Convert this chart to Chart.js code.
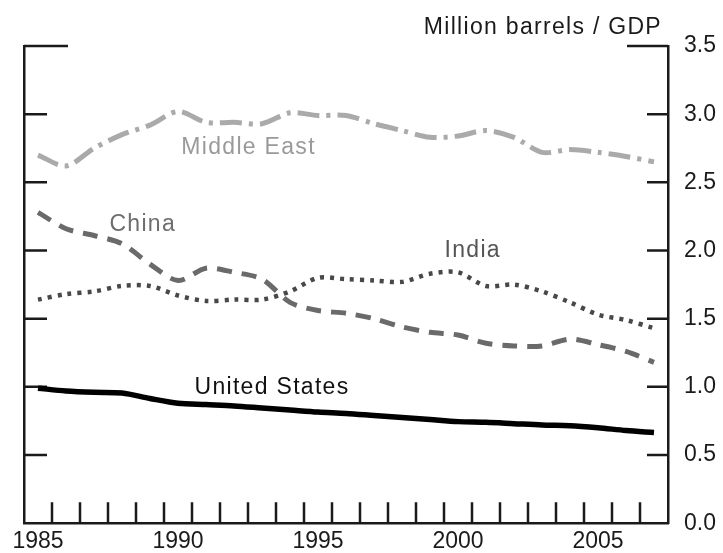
<!DOCTYPE html>
<html>
<head>
<meta charset="utf-8">
<script src="https://cdn.jsdelivr.net/npm/chart.js@4.4.0/dist/chart.umd.min.js"></script>
<style>
  html, body { margin: 0; padding: 0; background: #ffffff; }
  #wrap { width: 723px; height: 553px; }
</style>
</head>
<body>
<div id="wrap"><canvas id="c" width="723" height="553"></canvas></div>
<script>
// Oil intensity: million barrels per unit of GDP, annual values
const years = [1985, 1986, 1987, 1988, 1989, 1990, 1991, 1992, 1993, 1994, 1995, 1996,
               1997, 1998, 1999, 2000, 2001, 2002, 2003, 2004, 2005, 2006, 2007];
const middleEast   = [2.70, 2.62, 2.75, 2.85, 2.92, 3.02, 2.94, 2.94, 2.93, 3.01, 2.99, 2.99,
                      2.93, 2.88, 2.83, 2.84, 2.88, 2.83, 2.72, 2.74, 2.72, 2.69, 2.65];
const china        = [2.28, 2.16, 2.11, 2.05, 1.90, 1.78, 1.87, 1.84, 1.79, 1.62, 1.56, 1.54,
                      1.50, 1.44, 1.40, 1.38, 1.32, 1.30, 1.30, 1.35, 1.31, 1.26, 1.18];
const india        = [1.64, 1.68, 1.70, 1.74, 1.74, 1.67, 1.63, 1.64, 1.64, 1.70, 1.80, 1.79,
                      1.78, 1.77, 1.83, 1.84, 1.74, 1.75, 1.70, 1.62, 1.53, 1.49, 1.43];
const unitedStates = [0.99, 0.97, 0.96, 0.955, 0.915, 0.88, 0.87, 0.86, 0.845, 0.83, 0.815, 0.805,
                      0.79, 0.775, 0.76, 0.745, 0.74, 0.73, 0.72, 0.715, 0.70, 0.68, 0.665];
const xTickLabels = ['1985', '1990', '1995', '2000', '2005'];
const yTickValues = [0, 0.5, 1.0, 1.5, 2.0, 2.5, 3.0, 3.5];
const unitLabel = 'Million barrels / GDP';

// each annual value sits in the middle of its year
const pts = arr => arr.map((v, i) => ({ x: years[i] + 0.5, y: v }));

const FONT = '"Liberation Sans", Arial, sans-serif';
const INK = '#1a1a1a';

// Inward tick marks on the frame: year marks along the bottom, value marks on both sides
const frameTicks = {
  id: 'frameTicks',
  beforeDatasetsDraw(chart) {
    const { ctx, chartArea: a, scales } = chart;
    const x = scales.x, y = scales.y;
    ctx.save();
    ctx.strokeStyle = INK;
    ctx.lineWidth = 2.5;
    ctx.beginPath();
    for (let yr = years[0] + 1; yr <= years[years.length - 1]; yr++) {
      const px = x.getPixelForValue(yr);
      ctx.moveTo(px, a.bottom);
      ctx.lineTo(px, a.bottom - 21);
    }
    yTickValues.forEach(v => {
      if (v === 0) return;
      const py = y.getPixelForValue(v);
      const len = v === yTickValues[yTickValues.length - 1] ? 44 : 23;
      ctx.moveTo(a.left, py);
      ctx.lineTo(a.left + len, py);
      ctx.moveTo(a.right, py);
      ctx.lineTo(a.right - (len === 44 ? 41 : 21), py);
    });
    ctx.stroke();
    ctx.restore();
  }
};

// Series names next to their lines, plus the unit caption above the value axis
const seriesNames = {
  id: 'seriesNames',
  afterDatasetsDraw(chart) {
    const { ctx, chartArea: a, scales } = chart;
    const x = scales.x, y = scales.y;
    ctx.save();
    ctx.font = '23px ' + FONT;
    ctx.textBaseline = 'alphabetic';
    if ('letterSpacing' in ctx) ctx.letterSpacing = '1.3px';
    const names = [
      { text: 'Middle East',   x: 1990.62, y: 2.707, color: '#9a9a9a' },
      { text: 'China',         x: 1988.05, y: 2.14,  color: '#6e6e6e' },
      { text: 'India',         x: 2000.02, y: 1.951, color: '#555555' },
      { text: 'United States', x: 1991.09, y: 0.944, color: '#111111' }
    ];
    names.forEach(n => {
      ctx.fillStyle = n.color;
      ctx.textAlign = 'left';
      ctx.fillText(n.text, x.getPixelForValue(n.x), y.getPixelForValue(n.y));
    });
    ctx.fillStyle = INK;
    ctx.textAlign = 'right';
    ctx.fillText(unitLabel, a.right - 6, a.top - 12.5);
    ctx.restore();
  }
};

new Chart(document.getElementById('c'), {
  type: 'line',
  data: {
    datasets: [
      { label: 'Middle East', data: pts(middleEast), borderColor: '#aaaaaa',
        borderWidth: 5, borderDash: [22, 7, 4, 7] },
      { label: 'China', data: pts(china), borderColor: '#6a6a6a',
        borderWidth: 5, borderDash: [15, 10] },
      { label: 'India', data: pts(india), borderColor: '#484848',
        borderWidth: 4.5, borderDash: [4, 6] },
      { label: 'United States', data: pts(unitedStates), borderColor: '#000000',
        borderWidth: 5.5 }
    ]
  },
  options: {
    responsive: false,
    animation: false,
    events: [],
    layout: { padding: { left: 24, right: 0, top: 46, bottom: 0 } },
    elements: {
      point: { radius: 0 },
      line: { tension: 0.3, fill: false, borderCapStyle: 'butt', borderJoinStyle: 'round' }
    },
    plugins: { legend: { display: false }, tooltip: { enabled: false }, title: { display: false } },
    scales: {
      x: {
        type: 'linear',
        min: years[0],
        max: years[years.length - 1] + 1,
        afterBuildTicks(scale) {
          scale.ticks = xTickLabels.map(t => ({ value: Number(t) + 0.5 }));
        },
        afterFit(scale) { scale.height = 28; },
        grid: { display: false, drawTicks: false },
        border: { display: true, color: INK, width: 2.5 },
        ticks: {
          autoSkip: false,
          maxRotation: 0,
          padding: 5,
          color: INK,
          font: { family: FONT, size: 23 },
          callback: v => xTickLabels.find(t => Number(t) + 0.5 === v) || ''
        }
      },
      yLeft: {
        position: 'left',
        min: 0, max: 3.5,
        afterFit(scale) { scale.width = 0; },
        grid: { display: false, drawTicks: false },
        border: { display: true, color: INK, width: 2.5 },
        ticks: { display: false }
      },
      y: {
        position: 'right',
        min: 0, max: 3.5,
        afterBuildTicks(scale) {
          scale.ticks = yTickValues.map(v => ({ value: v }));
        },
        afterFit(scale) { scale.width = 55; },
        grid: { display: false, drawTicks: false },
        border: { display: true, color: INK, width: 2.5 },
        ticks: {
          padding: 16,
          color: INK,
          font: { family: FONT, size: 23 },
          callback: v => v.toFixed(1)
        }
      }
    }
  },
  plugins: [frameTicks, seriesNames]
});
</script>
</body>
</html>
